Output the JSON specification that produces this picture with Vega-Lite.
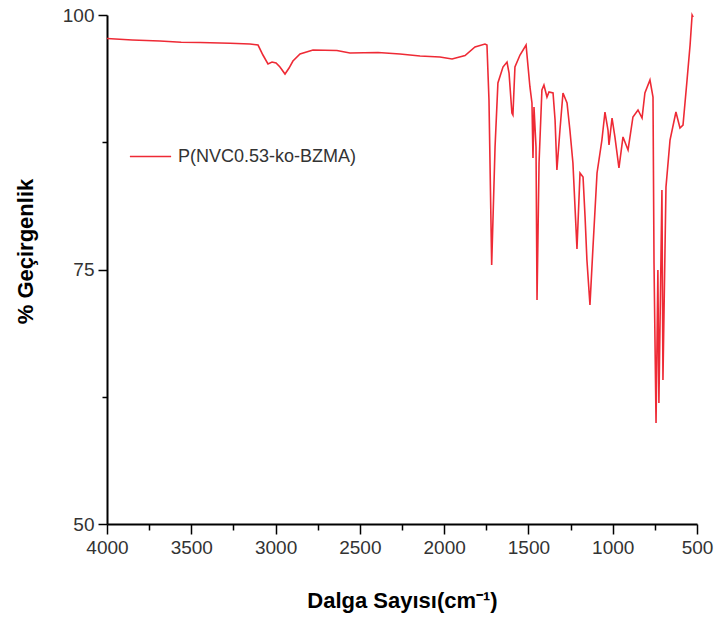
{
  "$schema": "https://vega.github.io/schema/vega-lite/v6.json",
  "autosize": "none",
  "width": 590,
  "height": 509,
  "padding": {"left": 107, "top": 15, "right": 17, "bottom": 104},
  "background": "white",
  "config": {
    "view": {"stroke": null},
    "font": "Liberation Sans",
    "axis": {"grid": false, "domainColor": "#000000", "domainWidth": 2, "tickColor": "#000000", "tickWidth": 1.5, "labelFont": "Liberation Sans", "labelColor": "#333333", "titleFont": "Liberation Sans", "titleColor": "#000000"}
  },
  "data": {"values": [
    {"wn": 4000, "T": 97.69, "series": "P(NVC0.53-ko-BZMA)"},
    {"wn": 3850, "T": 97.55, "series": "P(NVC0.53-ko-BZMA)"},
    {"wn": 3686, "T": 97.45, "series": "P(NVC0.53-ko-BZMA)"},
    {"wn": 3560, "T": 97.32, "series": "P(NVC0.53-ko-BZMA)"},
    {"wn": 3448, "T": 97.30, "series": "P(NVC0.53-ko-BZMA)"},
    {"wn": 3270, "T": 97.22, "series": "P(NVC0.53-ko-BZMA)"},
    {"wn": 3152, "T": 97.15, "series": "P(NVC0.53-ko-BZMA)"},
    {"wn": 3104, "T": 97.05, "series": "P(NVC0.53-ko-BZMA)"},
    {"wn": 3075, "T": 96.07, "series": "P(NVC0.53-ko-BZMA)"},
    {"wn": 3045, "T": 95.19, "series": "P(NVC0.53-ko-BZMA)"},
    {"wn": 3021, "T": 95.38, "series": "P(NVC0.53-ko-BZMA)"},
    {"wn": 2997, "T": 95.28, "series": "P(NVC0.53-ko-BZMA)"},
    {"wn": 2974, "T": 94.89, "series": "P(NVC0.53-ko-BZMA)"},
    {"wn": 2944, "T": 94.20, "series": "P(NVC0.53-ko-BZMA)"},
    {"wn": 2920, "T": 94.79, "series": "P(NVC0.53-ko-BZMA)"},
    {"wn": 2897, "T": 95.48, "series": "P(NVC0.53-ko-BZMA)"},
    {"wn": 2855, "T": 96.17, "series": "P(NVC0.53-ko-BZMA)"},
    {"wn": 2778, "T": 96.56, "series": "P(NVC0.53-ko-BZMA)"},
    {"wn": 2636, "T": 96.51, "series": "P(NVC0.53-ko-BZMA)"},
    {"wn": 2559, "T": 96.27, "series": "P(NVC0.53-ko-BZMA)"},
    {"wn": 2392, "T": 96.32, "series": "P(NVC0.53-ko-BZMA)"},
    {"wn": 2262, "T": 96.17, "series": "P(NVC0.53-ko-BZMA)"},
    {"wn": 2143, "T": 95.97, "series": "P(NVC0.53-ko-BZMA)"},
    {"wn": 2025, "T": 95.87, "series": "P(NVC0.53-ko-BZMA)"},
    {"wn": 1953, "T": 95.68, "series": "P(NVC0.53-ko-BZMA)"},
    {"wn": 1876, "T": 96.02, "series": "P(NVC0.53-ko-BZMA)"},
    {"wn": 1817, "T": 96.86, "series": "P(NVC0.53-ko-BZMA)"},
    {"wn": 1758, "T": 97.15, "series": "P(NVC0.53-ko-BZMA)"},
    {"wn": 1746, "T": 97.05, "series": "P(NVC0.53-ko-BZMA)"},
    {"wn": 1734, "T": 91.65, "series": "P(NVC0.53-ko-BZMA)"},
    {"wn": 1718, "T": 75.44, "series": "P(NVC0.53-ko-BZMA)"},
    {"wn": 1698, "T": 87.03, "series": "P(NVC0.53-ko-BZMA)"},
    {"wn": 1681, "T": 93.32, "series": "P(NVC0.53-ko-BZMA)"},
    {"wn": 1651, "T": 94.89, "series": "P(NVC0.53-ko-BZMA)"},
    {"wn": 1627, "T": 95.38, "series": "P(NVC0.53-ko-BZMA)"},
    {"wn": 1615, "T": 94.30, "series": "P(NVC0.53-ko-BZMA)"},
    {"wn": 1598, "T": 90.37, "series": "P(NVC0.53-ko-BZMA)"},
    {"wn": 1592, "T": 90.18, "series": "P(NVC0.53-ko-BZMA)"},
    {"wn": 1580, "T": 94.89, "series": "P(NVC0.53-ko-BZMA)"},
    {"wn": 1550, "T": 96.07, "series": "P(NVC0.53-ko-BZMA)"},
    {"wn": 1514, "T": 97.05, "series": "P(NVC0.53-ko-BZMA)"},
    {"wn": 1502, "T": 94.89, "series": "P(NVC0.53-ko-BZMA)"},
    {"wn": 1491, "T": 92.93, "series": "P(NVC0.53-ko-BZMA)"},
    {"wn": 1479, "T": 91.36, "series": "P(NVC0.53-ko-BZMA)"},
    {"wn": 1473, "T": 85.95, "series": "P(NVC0.53-ko-BZMA)"},
    {"wn": 1467, "T": 90.96, "series": "P(NVC0.53-ko-BZMA)"},
    {"wn": 1455, "T": 87.03, "series": "P(NVC0.53-ko-BZMA)"},
    {"wn": 1449, "T": 72.00, "series": "P(NVC0.53-ko-BZMA)"},
    {"wn": 1437, "T": 85.46, "series": "P(NVC0.53-ko-BZMA)"},
    {"wn": 1420, "T": 92.63, "series": "P(NVC0.53-ko-BZMA)"},
    {"wn": 1408, "T": 93.12, "series": "P(NVC0.53-ko-BZMA)"},
    {"wn": 1390, "T": 91.94, "series": "P(NVC0.53-ko-BZMA)"},
    {"wn": 1378, "T": 92.44, "series": "P(NVC0.53-ko-BZMA)"},
    {"wn": 1354, "T": 92.34, "series": "P(NVC0.53-ko-BZMA)"},
    {"wn": 1342, "T": 89.69, "series": "P(NVC0.53-ko-BZMA)"},
    {"wn": 1331, "T": 84.77, "series": "P(NVC0.53-ko-BZMA)"},
    {"wn": 1313, "T": 88.70, "series": "P(NVC0.53-ko-BZMA)"},
    {"wn": 1295, "T": 92.34, "series": "P(NVC0.53-ko-BZMA)"},
    {"wn": 1271, "T": 91.36, "series": "P(NVC0.53-ko-BZMA)"},
    {"wn": 1254, "T": 88.70, "series": "P(NVC0.53-ko-BZMA)"},
    {"wn": 1236, "T": 85.46, "series": "P(NVC0.53-ko-BZMA)"},
    {"wn": 1212, "T": 77.01, "series": "P(NVC0.53-ko-BZMA)"},
    {"wn": 1194, "T": 84.48, "series": "P(NVC0.53-ko-BZMA)"},
    {"wn": 1176, "T": 84.09, "series": "P(NVC0.53-ko-BZMA)"},
    {"wn": 1164, "T": 80.16, "series": "P(NVC0.53-ko-BZMA)"},
    {"wn": 1153, "T": 75.93, "series": "P(NVC0.53-ko-BZMA)"},
    {"wn": 1135, "T": 71.51, "series": "P(NVC0.53-ko-BZMA)"},
    {"wn": 1117, "T": 77.21, "series": "P(NVC0.53-ko-BZMA)"},
    {"wn": 1093, "T": 84.48, "series": "P(NVC0.53-ko-BZMA)"},
    {"wn": 1064, "T": 87.72, "series": "P(NVC0.53-ko-BZMA)"},
    {"wn": 1046, "T": 90.47, "series": "P(NVC0.53-ko-BZMA)"},
    {"wn": 1028, "T": 88.70, "series": "P(NVC0.53-ko-BZMA)"},
    {"wn": 1022, "T": 87.23, "series": "P(NVC0.53-ko-BZMA)"},
    {"wn": 1004, "T": 89.88, "series": "P(NVC0.53-ko-BZMA)"},
    {"wn": 987, "T": 88.02, "series": "P(NVC0.53-ko-BZMA)"},
    {"wn": 963, "T": 84.97, "series": "P(NVC0.53-ko-BZMA)"},
    {"wn": 939, "T": 88.02, "series": "P(NVC0.53-ko-BZMA)"},
    {"wn": 909, "T": 86.74, "series": "P(NVC0.53-ko-BZMA)"},
    {"wn": 880, "T": 89.98, "series": "P(NVC0.53-ko-BZMA)"},
    {"wn": 850, "T": 90.67, "series": "P(NVC0.53-ko-BZMA)"},
    {"wn": 826, "T": 89.88, "series": "P(NVC0.53-ko-BZMA)"},
    {"wn": 809, "T": 92.34, "series": "P(NVC0.53-ko-BZMA)"},
    {"wn": 779, "T": 93.61, "series": "P(NVC0.53-ko-BZMA)"},
    {"wn": 761, "T": 91.94, "series": "P(NVC0.53-ko-BZMA)"},
    {"wn": 755, "T": 75.64, "series": "P(NVC0.53-ko-BZMA)"},
    {"wn": 743, "T": 59.92, "series": "P(NVC0.53-ko-BZMA)"},
    {"wn": 732, "T": 74.95, "series": "P(NVC0.53-ko-BZMA)"},
    {"wn": 726, "T": 61.89, "series": "P(NVC0.53-ko-BZMA)"},
    {"wn": 708, "T": 82.81, "series": "P(NVC0.53-ko-BZMA)"},
    {"wn": 702, "T": 64.15, "series": "P(NVC0.53-ko-BZMA)"},
    {"wn": 684, "T": 83.10, "series": "P(NVC0.53-ko-BZMA)"},
    {"wn": 660, "T": 87.72, "series": "P(NVC0.53-ko-BZMA)"},
    {"wn": 625, "T": 90.47, "series": "P(NVC0.53-ko-BZMA)"},
    {"wn": 601, "T": 88.90, "series": "P(NVC0.53-ko-BZMA)"},
    {"wn": 583, "T": 89.19, "series": "P(NVC0.53-ko-BZMA)"},
    {"wn": 559, "T": 93.61, "series": "P(NVC0.53-ko-BZMA)"},
    {"wn": 541, "T": 97.05, "series": "P(NVC0.53-ko-BZMA)"},
    {"wn": 529, "T": 100.0, "series": "P(NVC0.53-ko-BZMA)"},
    {"wn": 523, "T": 99.8, "series": "P(NVC0.53-ko-BZMA)"}
  ]},
  "resolve": {"axis": {"x": "independent", "y": "independent"}},
  "layer": [
    {
      "mark": {"type": "line", "strokeWidth": 1.6, "interpolate": "linear"},
      "encoding": {
        "x": {"field": "wn", "type": "quantitative", "scale": {"domain": [4000, 500], "nice": false, "zero": false},
          "axis": {"orient": "bottom", "values": [4000, 3500, 3000, 2500, 2000, 1500, 1000, 500], "format": "d", "labelFontSize": 19, "labelPadding": 4, "tickSize": 10, "title": "Dalga Sayısı(cm⁻¹)", "titleFontSize": 22, "titleFontWeight": "bold", "titleY": 76, "titleBaseline": "middle", "labelFlush": false}},
        "y": {"field": "T", "type": "quantitative", "scale": {"domain": [50, 100], "nice": false, "zero": false},
          "axis": {"orient": "left", "values": [50, 75, 100], "labelFontSize": 19, "labelPadding": 4, "tickSize": 9, "title": "% Geçirgenlik", "titleFontSize": 22, "titleFontWeight": "bold", "titleX": -82, "titleY": 236, "titleAlign": "center", "titleBaseline": "middle", "titleAngle": -90, "labelFlush": false}},
        "color": {"field": "series", "type": "nominal", "scale": {"range": ["#ee2a35"]},
          "legend": {"orient": "none", "legendX": 22, "legendY": 120, "title": null, "symbolType": "stroke", "symbolSize": 1700, "symbolStrokeWidth": 1.6, "labelFontSize": 18, "labelLimit": 0, "labelColor": "#333333", "labelFont": "Liberation Sans", "padding": 0, "labelOffset": 6}}
      }
    },
    {
      "mark": {"type": "line", "strokeOpacity": 0},
      "encoding": {
        "x": {"field": "wn", "type": "quantitative",
          "axis": {"orient": "bottom", "values": [3750, 3250, 2750, 2250, 1750, 1250, 750], "labels": false, "domain": false, "tickSize": 6, "title": null}},
        "y": {"field": "T", "type": "quantitative",
          "axis": {"orient": "left", "values": [62.5, 87.5], "labels": false, "domain": false, "tickSize": 5, "title": null}}
      }
    }
  ]
}
